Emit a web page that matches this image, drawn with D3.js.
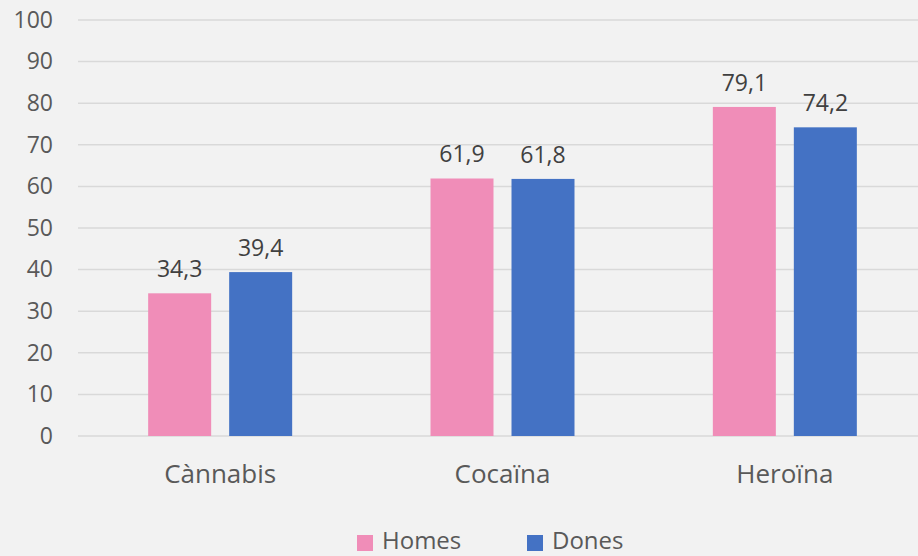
<!DOCTYPE html>
<html>
<head>
<meta charset="utf-8">
<script src="https://cdn.jsdelivr.net/npm/d3@7"></script>
<style>
  html, body { margin: 0; padding: 0; background: #f2f2f2; overflow: hidden; }
  svg { display: block; font-family: "Open Sans", sans-serif; }
</style>
</head>
<body>
<div id="chart"></div>
<script>
// dades
const categories = ["Cànnabis", "Cocaïna", "Heroïna"];
const seriesNames = ["Homes", "Dones"];
const homes = [34.3, 61.9, 79.1];
const dones = [39.4, 61.8, 74.2];
const colors = ["#f08db8", "#4472c4"];
const yTicks = [0, 10, 20, 30, 40, 50, 60, 70, 80, 90, 100];

const width = 918, height = 556;
const margin = { top: 20, right: -8, bottom: 120, left: 79 };

const svg = d3.select("#chart").append("svg")
  .attr("width", width)
  .attr("height", height);

svg.append("rect").attr("width", width).attr("height", height).attr("fill", "#f2f2f2");

const y = d3.scaleLinear().domain([0, 100]).range([height - margin.bottom, margin.top]);
const x0 = d3.scaleBand().domain(categories).range([margin.left, width - margin.right]);

// graella
svg.append("g").selectAll("line")
  .data(yTicks)
  .enter().append("line")
  .attr("x1", 78).attr("x2", width)
  .attr("y1", d => y(d)).attr("y2", d => y(d))
  .attr("stroke", "#d9d9d9").attr("stroke-width", 1.5);

// eix y
const yAxis = svg.append("g")
  .attr("transform", `translate(${margin.left - 26},0)`)
  .call(d3.axisLeft(y).tickValues(yTicks).tickSize(0).tickPadding(0));
yAxis.select(".domain").remove();
yAxis.selectAll("text")
  .attr("font-size", 23).attr("fill", "#595959").attr("font-family", "Open Sans");

// eix x
const xAxis = svg.append("g")
  .attr("transform", `translate(0,${y(0)})`)
  .call(d3.axisBottom(x0).tickSize(0).tickPadding(29));
xAxis.select(".domain").remove();
xAxis.selectAll("text")
  .attr("font-size", 26).attr("fill", "#595959").attr("font-family", "Open Sans");

// barres
const rows = categories.map((c, i) => ({ cat: c, vals: [homes[i], dones[i]] }));
const groups = svg.append("g").selectAll("g")
  .data(rows)
  .enter().append("g");

groups.each(function(r) {
  const cx = x0(r.cat) + x0.bandwidth() / 2;
  const x1 = d3.scaleBand().domain(seriesNames).range([cx - 72, cx + 72]).paddingInner(18 / 81);
  const g = d3.select(this);
  const items = seriesNames.map((s, j) => ({ s, v: r.vals[j], j }));
  g.selectAll("rect")
    .data(items)
    .enter().append("rect")
    .attr("x", d => x1(d.s))
    .attr("y", d => y(d.v))
    .attr("width", x1.bandwidth())
    .attr("height", d => y(0) - y(d.v))
    .attr("fill", d => colors[d.j]);
  g.selectAll("text")
    .data(items)
    .enter().append("text")
    .attr("x", d => x1(d.s) + x1.bandwidth() / 2)
    .attr("y", d => y(d.v) - 16)
    .attr("text-anchor", "middle")
    .attr("font-size", 23)
    .attr("fill", "#404040")
    .text(d => d3.format(".1f")(d.v).replace(".", ","));
});

// llegenda
const legend = svg.append("g");
const legX = [357, 527];
seriesNames.forEach((s, i) => {
  legend.append("rect")
    .attr("x", legX[i]).attr("y", 535).attr("width", 16).attr("height", 16)
    .attr("fill", colors[i]);
  legend.append("text")
    .attr("x", legX[i] + 25).attr("y", 549)
    .attr("font-size", 24).attr("fill", "#595959")
    .text(s);
});
</script>
</body>
</html>
